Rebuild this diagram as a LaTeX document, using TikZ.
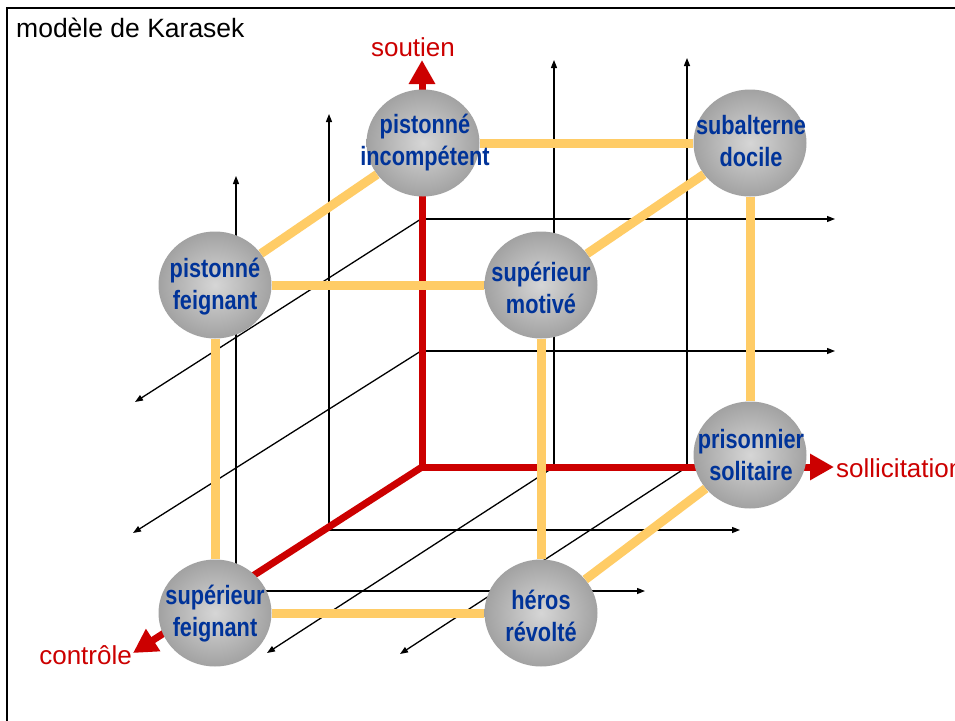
\documentclass[tikz,border=0pt]{standalone}
\usepackage{fontspec}
\setmainfont{Liberation Sans}
\newfontfamily\narrowfont[FakeStretch=0.82]{Liberation Sans Bold}
\usetikzlibrary{arrows.meta,shapes.geometric}
\definecolor{axisred}{HTML}{CC0000}
\definecolor{edgeorange}{HTML}{FFCC66}
\definecolor{textblue}{HTML}{003399}
\definecolor{sphin}{HTML}{D6D6D6}
\definecolor{sphout}{HTML}{A2A2A2}
\begin{document}
\begin{tikzpicture}[x=1pt,y=-1pt,
  gridline/.style={line width=1.3pt,-{Triangle[length=8pt,width=6pt]}},
  axisline/.style={axisred,line width=7pt},
  axistip/.tip={Triangle[length=24pt,width=25pt]},
  cubeedge/.style={edgeorange,line width=9pt},
  sphere/.style={ellipse,minimum width=113pt,minimum height=107pt,inner sep=0pt,
    shading=radial,inner color=sphin,outer color=sphout},
  spheretext/.style={text=textblue,align=center,inner sep=0pt,
    font=\narrowfont\fontsize{26.5}{32}\selectfont},
  axislabel/.style={text=axisred,inner sep=0pt,font=\fontsize{26}{30}\selectfont},
  titletext/.style={inner sep=0pt,font=\fontsize{26.5}{30}\selectfont}
]
\useasboundingbox (0,0) rectangle (955,720);
\fill[white] (0,0) rectangle (955,720);
\draw[line width=2pt] (7,8) rectangle (985,745);
\node[titletext,anchor=base west] (title) at (16,37) {modèle de Karasek};

% grid coordinates
\coordinate (O) at (422,467);
\coordinate (h1s) at (421,219); \coordinate (h1e) at (835,219);
\coordinate (h2s) at (421,351); \coordinate (h2e) at (835,351);
\coordinate (h3s) at (329,530); \coordinate (h3e) at (740,530);
\coordinate (h4s) at (236,591); \coordinate (h4e) at (645,591);
\coordinate (v1s) at (236,591); \coordinate (v1e) at (236,176);
\coordinate (v2s) at (329,530); \coordinate (v2e) at (329,114);
\coordinate (v3s) at (554,467); \coordinate (v3e) at (554,60);
\coordinate (v4s) at (687,467); \coordinate (v4e) at (687,58);
\coordinate (d1e) at (135,402);
\coordinate (d2e) at (133,533);
\coordinate (d3e) at (267,653);
\coordinate (d4e) at (400,654);
\coordinate (upTip) at (422,60);
\coordinate (rightTip) at (834,467);
\coordinate (leftTip) at (133,653);

% black grid
\draw[gridline] (h1s) -- (h1e);
\draw[gridline] (h2s) -- (h2e);
\draw[gridline] (h3s) -- (h3e);
\draw[gridline] (h4s) -- (h4e);
\draw[gridline] (v1s) -- (v1e);
\draw[gridline] (v2s) -- (v2e);
\draw[gridline] (v3s) -- (v3e);
\draw[gridline] (v4s) -- (v4e);
\draw[gridline] (h1s) -- (d1e);
\draw[gridline] (h2s) -- (d2e);
\draw[gridline] (v3s) -- (d3e);
\draw[gridline] (v4s) -- (d4e);

% red axes
\draw[axisline,-axistip] (O) -- (leftTip);
\draw[axisline,axistip-axistip,line join=miter] (upTip) -- (O) -- (rightTip);

\node[axislabel,anchor=base] (soutien) at (413,56) {soutien};
\node[axislabel,anchor=base east] (controle) at (132,664) {contrôle};
\node[axislabel,anchor=base west] (sollic) at (836,477) {sollicitation};

% spheres
\node[sphere] (inc) at (423,143) {};
\node[sphere] (sub) at (750,143) {};
\node[sphere] (pf) at (215,285) {};
\node[sphere] (sm) at (541,285) {};
\node[sphere] (ps) at (750,455) {};
\node[sphere] (sf) at (215,613) {};
\node[sphere] (hr) at (541,613) {};

% cube edges
\draw[cubeedge] (inc) -- (sub);
\draw[cubeedge] (inc) -- (pf);
\draw[cubeedge] (sub) -- (sm);
\draw[cubeedge] (pf) -- (sm);
\draw[cubeedge] (pf) -- (sf);
\draw[cubeedge] (sm) -- (hr);
\draw[cubeedge] (sub) -- (ps);
\draw[cubeedge] (sf) -- (hr);
\draw[cubeedge] (hr) -- (ps);

% sphere texts
\node[spheretext] (inc-t) at (425,143) {pistonné\\incompétent};
\node[spheretext] (sub-t) at (751,141) {subalterne\\docile};
\node[spheretext] (pf-t) at (215,287) {pistonné\\feignant};
\node[spheretext] (sm-t) at (541,288) {supérieur\\motivé};
\node[spheretext] (ps-t) at (751,455) {prisonnier\\solitaire};
\node[spheretext] (sf-t) at (215,614) {supérieur\\feignant};
\node[spheretext] (hr-t) at (541,616) {héros\\révolté};
\end{tikzpicture}
\end{document}
